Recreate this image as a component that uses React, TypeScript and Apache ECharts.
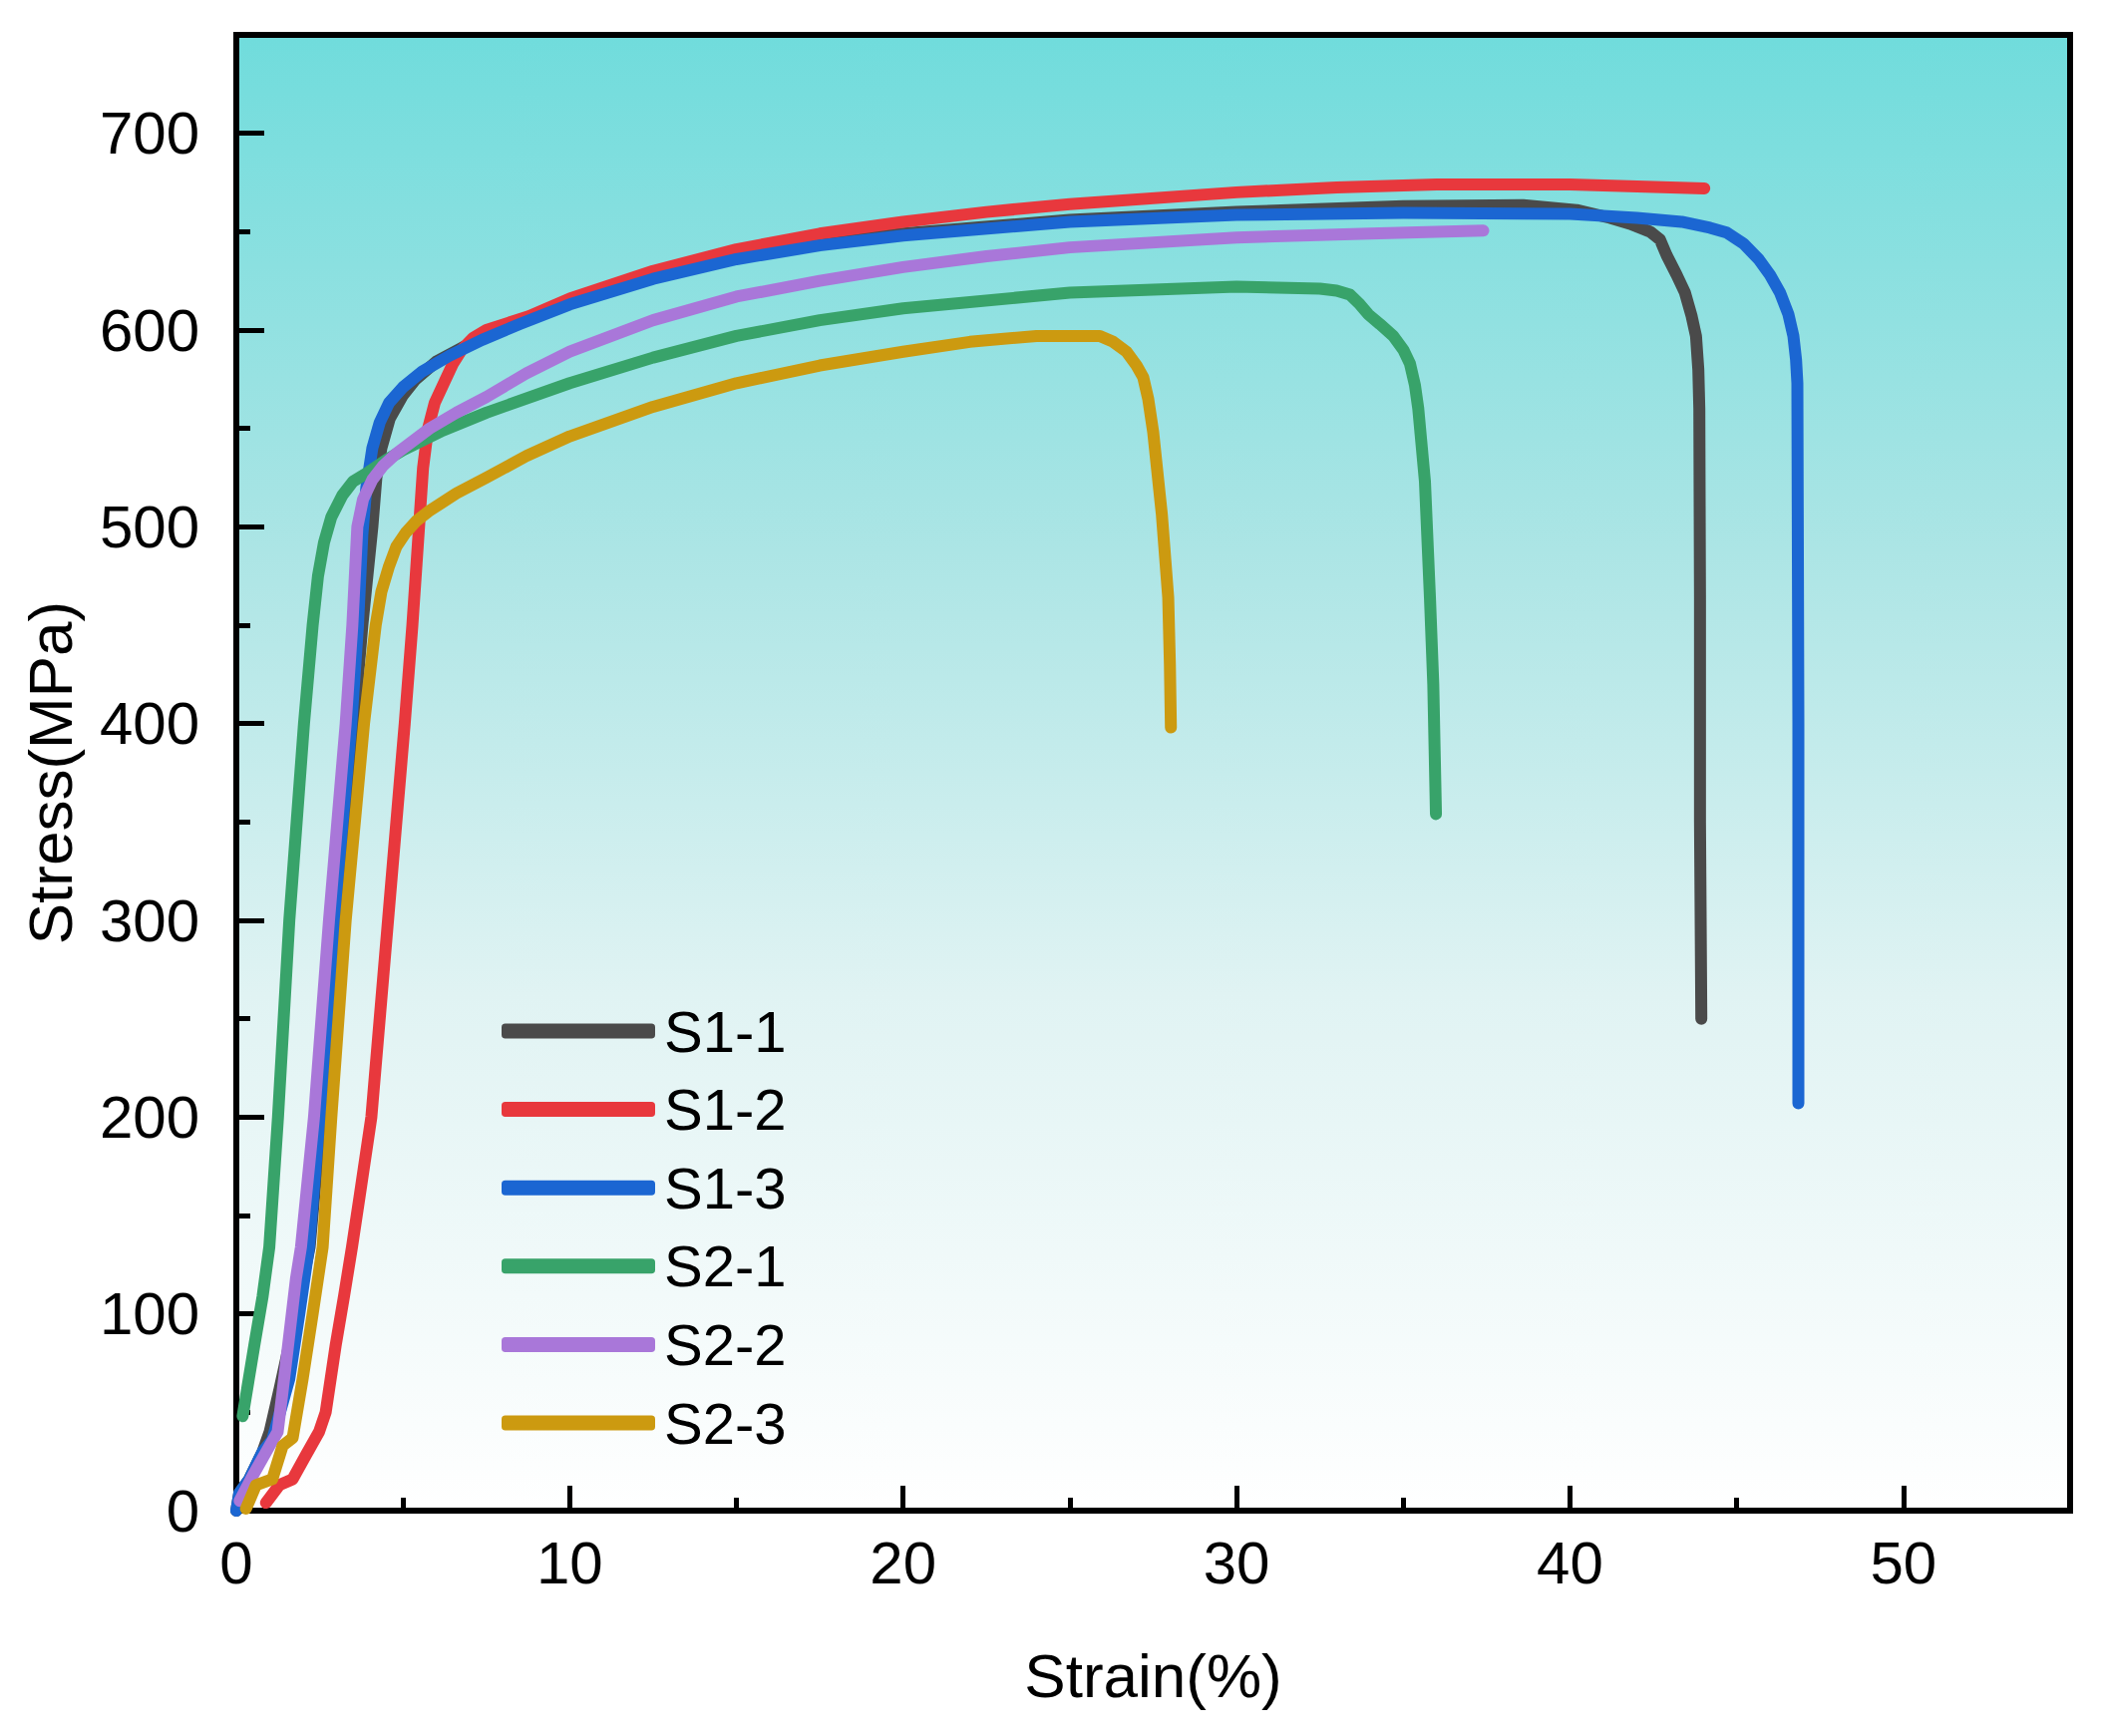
import React, { useEffect, useRef } from "react";
import * as echarts from "echarts";

const seriesNames = ["S1-1", "S1-2", "S1-3", "S2-1", "S2-2", "S2-3"];
const seriesColors = ["#4a4a4a", "#e8383d", "#1b66d2", "#38a36a", "#a977d9", "#cc9a10"];

const xTicks = [0, 10, 20, 30, 40, 50];
const yTicks = [0, 100, 200, 300, 400, 500, 600, 700];

// [strain %, stress MPa]
const S1_1: [number, number][] = [
  [0, 0], [0.09, 9], [0.39, 16], [0.79, 30], [1.0, 40], [1.3, 62], [1.79, 100], [2.2, 134],
  [2.55, 200], [2.98, 300], [3.53, 400], [3.78, 450], [4.08, 500], [4.2, 525], [4.35, 540],
  [4.6, 555], [5.0, 567], [5.38, 575], [6.0, 584], [6.77, 591], [8, 601], [10, 614],
  [12.5, 627], [15, 637], [17.5, 644], [20, 649], [25, 656], [30, 660], [35, 663],
  [38.6, 663.5], [40.2, 661], [41.2, 657], [41.8, 654], [42.4, 650], [42.7, 646], [42.9, 638],
  [43.2, 628], [43.45, 619], [43.65, 607], [43.78, 597], [43.85, 580], [43.88, 560],
  [43.9, 463], [43.9, 350], [43.94, 250],
];
const S1_2: [number, number][] = [
  [0.89, 4], [1.29, 13], [1.69, 16], [2.08, 28], [2.48, 40], [2.68, 50], [2.98, 84], [3.23, 109],
  [3.47, 134], [3.7, 160], [4.05, 200], [4.55, 300], [5.05, 400], [5.28, 450], [5.48, 500],
  [5.6, 530], [5.75, 550], [5.95, 563], [6.28, 575], [6.5, 583], [6.76, 590], [7.1, 596],
  [7.5, 600], [8.77, 607], [10, 616], [12.5, 630], [15, 641], [17.5, 649], [20, 655],
  [22.5, 660], [25, 664], [30, 670], [33, 672.5], [36, 674], [40, 674], [44.03, 672],
];
const S1_3: [number, number][] = [
  [0, 0], [0.09, 9], [0.39, 16], [0.79, 30], [1.08, 36], [1.59, 67], [1.89, 100], [2.18, 134],
  [2.5, 200], [2.93, 300], [3.45, 400], [3.65, 450], [3.78, 496], [3.9, 520], [4.08, 540],
  [4.3, 553], [4.58, 563], [5.0, 571], [5.58, 579], [6.4, 587], [7.37, 595], [8.5, 603],
  [10, 613], [12.5, 626], [15, 636], [17.5, 643], [20, 648], [25, 655], [30, 658.5],
  [35, 659.5], [40, 659], [42, 657], [43.35, 655], [44.2, 652], [44.7, 649.5], [45.2, 644],
  [45.66, 636], [46.0, 628], [46.3, 619], [46.55, 608], [46.7, 597], [46.78, 585],
  [46.82, 573], [46.85, 400], [46.85, 207],
];
const S2_1: [number, number][] = [
  [0.19, 48], [0.54, 84], [0.79, 109], [0.99, 134], [1.25, 200], [1.59, 300], [2.03, 400],
  [2.29, 450], [2.45, 475], [2.63, 492], [2.85, 505], [3.18, 516], [3.5, 523], [3.98, 528],
  [4.5, 534], [5.0, 539], [6.2, 549], [7.5, 558], [10, 573], [12.5, 586], [15, 597],
  [17.5, 605], [20, 611], [25, 619], [30, 622], [32.5, 621], [33.0, 620], [33.4, 618],
  [33.7, 613], [33.95, 608], [34.3, 603], [34.7, 597], [35.0, 590], [35.2, 583], [35.35, 572],
  [35.45, 560], [35.65, 523], [35.8, 464], [35.9, 420], [35.98, 354],
];
const S2_2: [number, number][] = [
  [0.1, 5], [0.5, 18], [1.0, 33], [1.24, 40], [1.49, 75], [1.79, 118], [1.94, 134], [2.33, 200],
  [2.78, 300], [3.28, 400], [3.48, 450], [3.63, 500], [3.8, 514], [4.08, 524], [4.4, 531],
  [4.78, 537], [5.8, 550], [6.6, 558], [7.5, 566], [8.7, 578], [10, 589], [12.5, 605],
  [15, 617], [17.5, 625], [20, 632], [22.5, 637.5], [25, 642], [30, 647], [34, 649],
  [37.4, 650.5],
];
const S2_3: [number, number][] = [
  [0.29, 1], [0.59, 13], [1.08, 16], [1.39, 33], [1.69, 37], [1.99, 67], [2.29, 100],
  [2.59, 134], [2.85, 200], [3.28, 300], [3.83, 400], [4.18, 450], [4.35, 467], [4.58, 480],
  [4.8, 490], [5.08, 497], [5.4, 503], [5.78, 508], [6.6, 517], [7.5, 525], [8.7, 536],
  [10, 546], [12.5, 561], [15, 573], [17.5, 582], [20, 589], [22, 594], [24, 597],
  [25.9, 597], [26.3, 594], [26.7, 589], [27.0, 582], [27.2, 576], [27.35, 565], [27.5, 548],
  [27.76, 506], [27.95, 464], [28.0, 430], [28.03, 398],
];

const seriesData = [S1_1, S1_2, S1_3, S2_1, S2_2, S2_3];

const FONT = "Liberation Sans, Arial, sans-serif";

export default function App() {
  const ref = useRef<HTMLDivElement>(null);
  useEffect(() => {
    if (!ref.current) return;
    const chart = echarts.init(ref.current, undefined, { renderer: "svg" });
    const axisCommon = {
      type: "value" as const,
      splitLine: { show: false },
    };
    chart.setOption({
      animation: false,
      backgroundColor: "#ffffff",
      textStyle: { fontFamily: FONT },
      grid: {
        left: 237,
        right: 32,
        top: 35,
        bottom: 226,
        show: true,
        borderColor: "#000",
        borderWidth: 6,
        backgroundColor: new echarts.graphic.LinearGradient(0, 0, 0, 1, [
          { offset: 0, color: "#70dcdc" },
          { offset: 0.35, color: "#ace5e5" },
          { offset: 0.65, color: "#e0f3f3" },
          { offset: 1, color: "#ffffff" },
        ]),
      },
      legend: {
        orient: "vertical",
        left: 498,
        top: 1000,
        itemWidth: 154,
        itemHeight: 15,
        itemGap: 20.6,
        icon: "roundRect",
        data: seriesNames,
        textStyle: {
          fontSize: 58,
          lineHeight: 58,
          color: "#000",
          fontFamily: FONT,
          padding: [0, 0, 0, 4],
        },
      },
      xAxis: [
        {
          ...axisCommon,
          min: 0,
          max: 55,
          interval: 10,
          position: "bottom",
          name: "Strain(%)",
          nameLocation: "middle",
          nameGap: 134,
          nameTextStyle: { fontSize: 62, color: "#000", fontFamily: FONT },
          axisLine: { show: true, lineStyle: { color: "#000", width: 6 } },
          axisTick: { show: true, inside: true, length: 25, lineStyle: { color: "#000", width: 5 } },
          axisLabel: {
            fontSize: 60,
            color: "#000",
            margin: 22,
            fontFamily: FONT,
            showMaxLabel: false,
            formatter: (v: number) => (xTicks.includes(v) ? String(v) : ""),
          },
        },
        {
          ...axisCommon,
          min: 0,
          max: 55,
          interval: 5,
          position: "bottom",
          axisLine: { show: false },
          axisTick: { show: true, inside: true, length: 13, lineStyle: { color: "#000", width: 5 } },
          axisLabel: { show: false },
        },
      ],
      yAxis: [
        {
          ...axisCommon,
          min: 0,
          max: 750,
          interval: 100,
          position: "left",
          name: "Stress(MPa)",
          nameLocation: "middle",
          nameGap: 156,
          nameTextStyle: { fontSize: 62, color: "#000", fontFamily: FONT },
          axisLine: { show: true, lineStyle: { color: "#000", width: 6 } },
          axisTick: { show: true, inside: true, length: 28, lineStyle: { color: "#000", width: 5 } },
          axisLabel: {
            fontSize: 60,
            color: "#000",
            margin: 37,
            fontFamily: FONT,
            showMaxLabel: false,
            formatter: (v: number) => (yTicks.includes(v) ? String(v) : ""),
          },
        },
        {
          ...axisCommon,
          min: 0,
          max: 750,
          interval: 50,
          position: "left",
          axisLine: { show: false },
          axisTick: { show: true, inside: true, length: 14, lineStyle: { color: "#000", width: 5 } },
          axisLabel: { show: false },
        },
      ],
      series: seriesNames.map((name, i) => ({
        name,
        type: "line",
        xAxisIndex: 0,
        yAxisIndex: 0,
        data: seriesData[i],
        color: seriesColors[i],
        showSymbol: false,
        symbol: "none",
        smooth: false,
        lineStyle: { width: 12, color: seriesColors[i], cap: "round", join: "round" },
        itemStyle: { color: seriesColors[i] },
      })),
    });
    return () => chart.dispose();
  }, []);
  return (
    <div
      ref={ref}
      style={{ position: "fixed", left: 0, top: 0, width: 2108, height: 1741, background: "#fff" }}
    />
  );
}
